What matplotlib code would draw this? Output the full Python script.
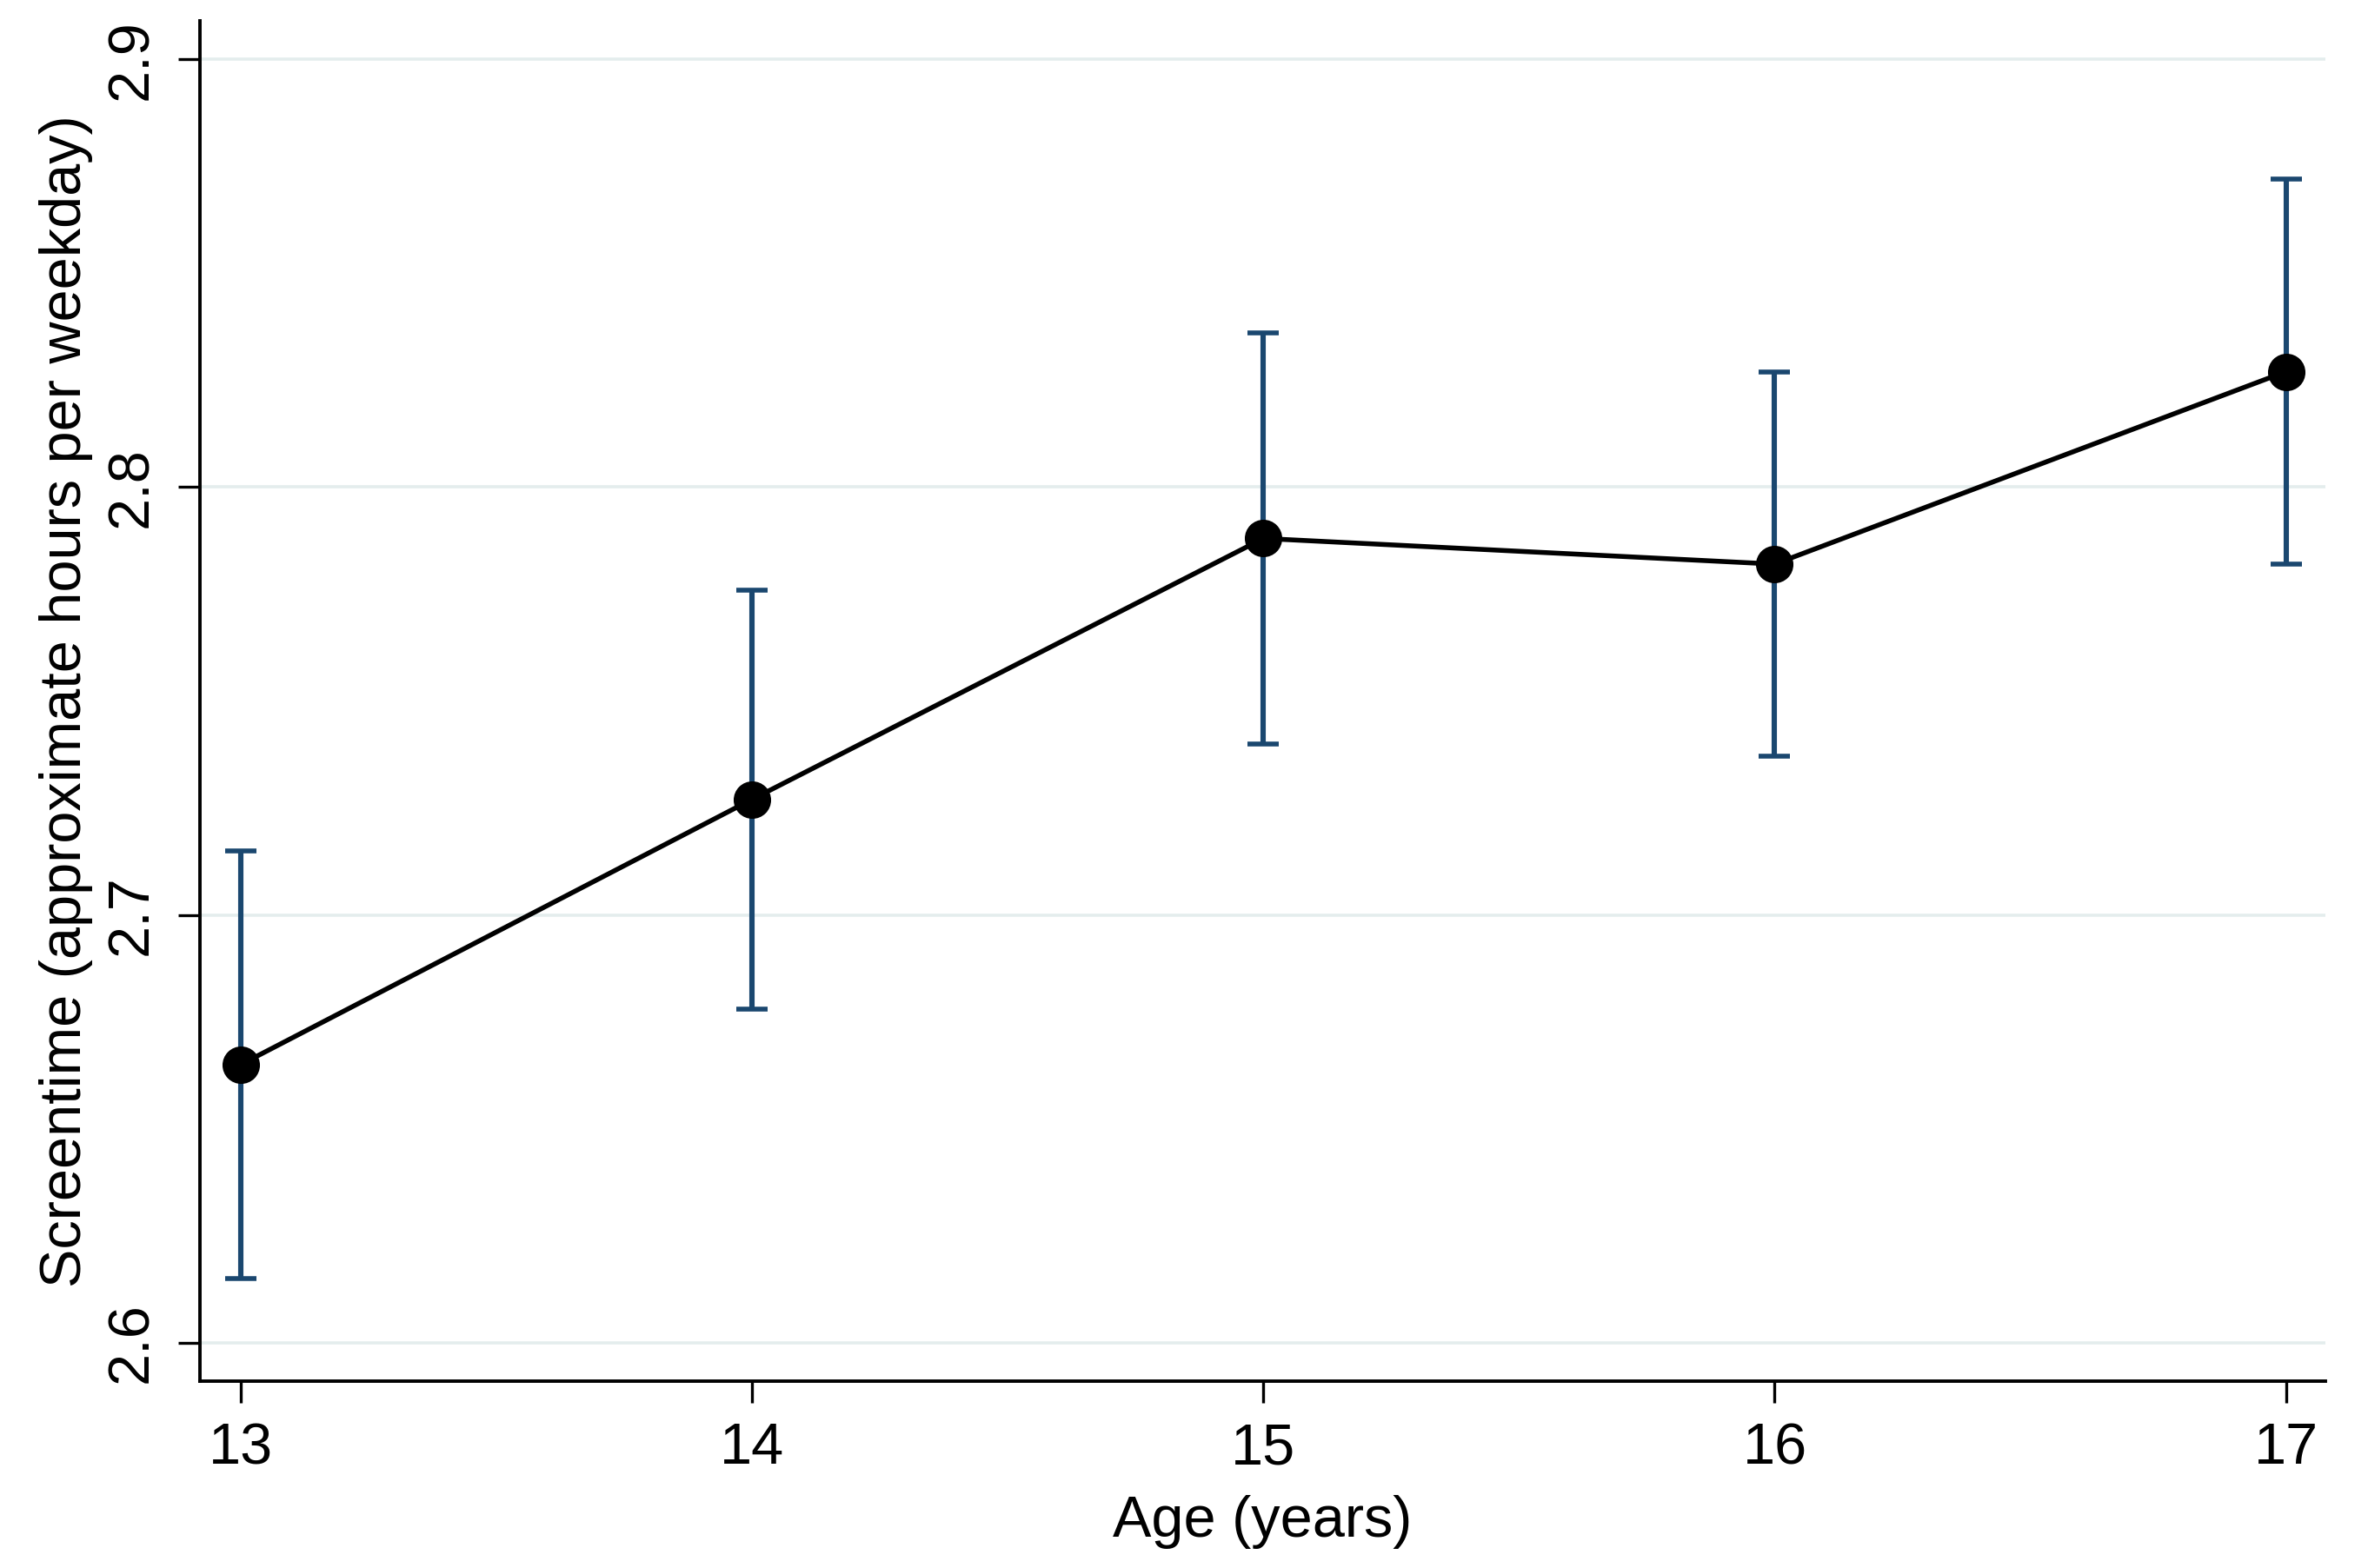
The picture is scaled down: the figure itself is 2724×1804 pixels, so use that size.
import matplotlib
matplotlib.use("Agg")
import matplotlib.pyplot as plt

# Mean screentime with 95% CI by age
ages = [13, 14, 15, 16, 17]
screentime = [2.665, 2.727, 2.788, 2.782, 2.827]
ci_low = [2.615, 2.678, 2.740, 2.737, 2.782]
ci_high = [2.715, 2.776, 2.836, 2.827, 2.872]

yticks = [2.6, 2.7, 2.8, 2.9]

plt.rcParams['font.family'] = ['Liberation Sans', 'DejaVu Sans']

fig = plt.figure(figsize=(13.62, 9.02), dpi=200)
ax = fig.add_axes([0.0844, 0.1192, 0.8976, 0.8675])

yerr = [[m - lo for m, lo in zip(screentime, ci_low)],
        [hi - m for m, hi in zip(screentime, ci_high)]]

# CI bars
ax.errorbar(ages, screentime, yerr=yerr, fmt='none', ecolor='#1a476f',
            elinewidth=2.2, capsize=6.5, capthick=2.0, zorder=2)
# means
ax.plot(ages, screentime, color='black', linewidth=2.0, marker='o',
        markersize=14.5, zorder=3)

ax.set_xlim(12.92, 17.077)
ax.set_ylim(2.591, 2.909)
ax.set_xticks(ages)
ax.set_yticks(yticks)
ax.set_yticklabels([f"{t:.1f}" for t in yticks], rotation=90, va='center')

ax.grid(axis='y', color='#e4eded', linewidth=1.3)
ax.set_axisbelow(True)

for side in ['top', 'right']:
    ax.spines[side].set_visible(False)
for side in ['left', 'bottom']:
    ax.spines[side].set_linewidth(1.4)

ax.tick_params(axis='both', labelsize=24, length=9, width=1.2, pad=8)

ax.set_xlabel("Age (years)", fontsize=24, labelpad=8)
ax.set_ylabel("Screentime (approximate hours per weekday)", fontsize=24, labelpad=5)

fig.savefig("out.png", dpi=200, facecolor='white')
